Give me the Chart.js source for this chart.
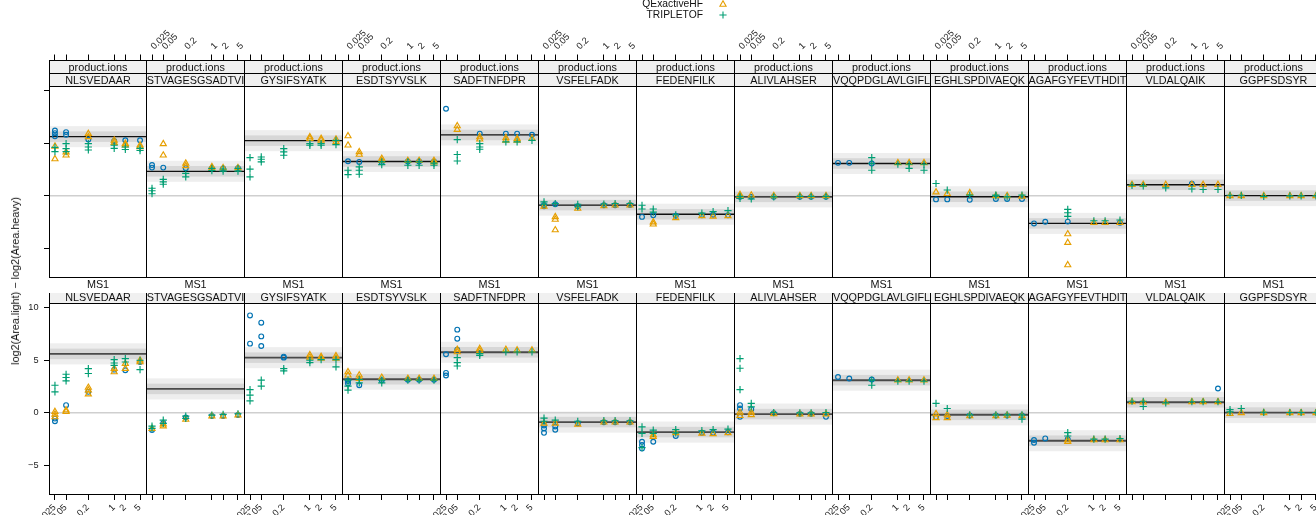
<!DOCTYPE html>
<html><head><meta charset="utf-8">
<script src="https://cdn.jsdelivr.net/npm/chart.js@4.4.1/dist/chart.umd.min.js"></script>
<style>
html,body{margin:0;padding:0;background:#fff;}
#root{position:relative;width:1316px;height:515px;overflow:hidden;background:#fff;font-family:'Liberation Sans',Arial,Helvetica,sans-serif;}
#root canvas{position:absolute;}
.strip{position:absolute;height:13px;line-height:13px;font-size:10.8px;display:flex;justify-content:center;overflow:hidden;white-space:nowrap;color:#111;}
.leg{position:absolute;font-size:10.3px;line-height:11px;color:#111;white-space:nowrap;text-align:right;width:80px;}
#ytitle{position:absolute;left:15px;top:281px;transform:translate(-50%,-50%) rotate(-90deg);font-size:10.8px;white-space:nowrap;color:#111;}
</style></head><body>
<div id="root"></div>
<script>
// ---------------- data ----------------
const concentrations = [0.025, 0.05, 0.2, 1, 2, 5];
const xTickLabels = ['0.025', '0.05', '0.2', '1', '2', '5'];
const yTicks = [-5, 0, 5, 10];
const yTickLabels = ['\u22125', '0', '5', '10'];
const rowLabels = ['product.ions', 'MS1'];
const peptides = ['NLSVEDAAR', 'STVAGESGSADTVI', 'GYSIFSYATK', 'ESDTSYVSLK', 'SADFTNFDPR', 'VSFELFADK',
  'FEDENFILK', 'ALIVLAHSER', 'VQQPDGLAVLGIFL', 'EGHLSPDIVAEQK', 'AGAFGYFEVTHDIT', 'VLDALQAIK', 'GGPFSDSYR'];
const seriesNames = ['circle series', 'QExactiveHF', 'TRIPLETOF'];

const meanProduct = [5.62, 2.33, 5.24, 3.26, 5.78, -0.88, -1.75, -0.1, 3.07, -0.09, -2.62, 1.05, 0.02];
const meanMS1 = [5.6, 2.27, 5.24, 3.19, 5.75, -0.88, -1.83, -0.12, 3.1, -0.19, -2.65, 1.0, 0.02];

// product.ions: per peptide, per concentration, replicate values
const productCircle = [
  [[6.2,5.95,5.65],[6.05,5.8],[5.35],[5.2],[5.27],[5.27]],
  [[2.92,2.68],[2.68],[2.63],[2.6],[2.6],[2.62]],
  [[],[],[],[],[],[]],
  [[3.28],[3.22],[3.2],[3.25],[3.25],[3.25]],
  [[8.27],[],[5.9],[5.9],[5.9],[5.8]],
  [[-0.88,-1.0],[-0.8],[-1.0],[-0.9],[-0.9],[-0.88]],
  [[-2.0],[-1.85],[-1.9],[-1.85],[-1.8],[-1.85]],
  [[-0.1],[-0.1],[-0.1],[-0.1],[-0.1],[-0.1]],
  [[3.13],[3.13],[3.07],[],[],[]],
  [[-0.34],[-0.34],[-0.38],[-0.3],[-0.3],[-0.3]],
  [[-2.62],[-2.46],[-2.45],[],[],[-2.56]],
  [[],[],[],[1.15],[],[]],
  [[],[],[],[],[],[]]
];
const productQE = [
  [[4.7,3.5],[4.15,3.85],[5.9,5.6],[5.27,5.05],[4.96,4.8],[4.8,4.64]],
  [[],[4.93,3.85],[3.08,2.84],[2.75,2.6],[2.65],[2.65]],
  [[],[],[],[5.59,5.43],[5.43,5.27],[5.37,5.12]],
  [[5.68,4.8],[4.17,3.92],[3.54,3.33],[3.33],[3.33],[3.33,3.2]],
  [[],[6.63,6.28],[5.59,5.37],[5.5,5.27],[5.43,5.27],[5.43]],
  [[-1.0],[-2.0,-2.25,-3.25],[-1.2],[-0.97],[-0.9],[-0.9]],
  [[],[-2.5,-2.7],[-2.1],[-1.9],[-1.95],[-1.9]],
  [[0.1,-0.05],[0.05],[0.0],[0.0],[0.0],[0.0]],
  [[],[],[],[3.13],[3.13],[3.13]],
  [[0.35],[0.2],[0.28],[0.0],[0.0],[-0.05]],
  [[],[],[-3.63,-4.45,-6.57],[-2.56],[-2.56],[-2.56]],
  [[1.05],[1.05],[1.05],[1.05],[1.05],[1.05]],
  [[0.0],[0.0],[0.0],[0.0],[0.0],[0.0]]
];
const productTT = [
  [[4.6,4.2],[4.96,4.48,4.2],[4.96,4.64,4.35],[4.8,4.5],[4.64,4.4],[4.5,4.3]],
  [[0.72,0.48,0.2],[1.56,1.33,1.1],[2.13,1.8],[2.6,2.4],[2.55,2.35],[2.6,2.35]],
  [[3.63,2.53,1.8],[3.69,3.47,3.22],[4.48,4.17,3.85],[4.96,4.8],[4.96,4.8],[5.27,4.86]],
  [[2.43,2.02],[2.75,2.43,2.05],[3.22,2.96],[3.22,2.9],[3.22,2.9],[3.1,2.9]],
  [[],[5.34,3.92,3.31],[4.96,4.64,4.42],[5.12],[5.12],[5.27]],
  [[-0.57,-0.8],[-0.73],[-0.8,-1.04],[-0.78],[-0.73],[-0.73]],
  [[-0.9,-1.25],[-1.25,-1.55],[-1.8],[-1.65],[-1.5],[-1.4]],
  [[-0.05,-0.25],[-0.3],[-0.1],[-0.05],[-0.05],[-0.05]],
  [[],[],[3.63,3.07,2.43],[3.0],[3.0,2.6],[3.0,2.43]],
  [[1.17],[0.55],[0.06],[0.06,0.0],[-0.1],[0.06]],
  [[],[],[-1.29,-1.61,-1.95],[-2.37],[-2.37],[-2.3]],
  [[1.0],[0.95],[0.75],[0.65],[0.6],[0.6]],
  [[0.05],[0.05],[-0.05],[0.0],[0.0],[0.0]]
];
// MS1
const ms1Circle = [
  [[-0.55,-0.8],[0.73],[1.99],[4.1],[4.04],[4.83]],
  [[-1.64],[-1.0],[-0.45],[-0.3],[-0.3],[-0.2]],
  [[9.25,6.57],[8.56,7.26,6.35],[5.33,5.24],[],[],[]],
  [[3.03,2.78],[2.62],[3.1],[3.15],[3.15],[3.15]],
  [[5.56,3.79,3.54],[7.9,7.04,6.0],[],[],[],[]],
  [[-1.2,-1.5,-1.9],[-1.3,-1.6],[-1.0],[-0.9],[-0.9],[-0.9]],
  [[-2.75,-3.05,-3.4],[-2.75],[-2.2],[-1.9],[-1.9],[-1.85]],
  [[0.73,0.41,-0.38],[0.35],[-0.05],[-0.1],[-0.1],[-0.38]],
  [[3.4],[3.25],[3.16],[],[],[]],
  [[-0.41],[-0.3],[-0.25],[-0.25],[-0.25],[-0.25]],
  [[-2.58,-2.84],[-2.43],[-2.5],[],[],[]],
  [[],[],[],[],[],[2.31]],
  [[],[],[],[],[],[]]
];
const ms1QE = [
  [[0.1,-0.15,-0.4],[0.25,0.1],[2.4,2.15,1.77],[4.2,3.88],[4.67,4.2],[4.99,4.83]],
  [[-1.5],[-1.07,-1.26],[-0.63],[-0.32],[-0.32],[-0.22]],
  [[],[],[],[5.49,5.27],[5.33,5.17],[5.4,5.17]],
  [[3.88,3.57],[3.57,3.25],[3.35],[3.25],[3.25],[3.25]],
  [[],[6.0,5.78],[6.09,5.87],[6.0],[5.95],[5.95]],
  [[-1.0],[-1.0],[-1.1],[-0.9],[-0.9],[-0.9]],
  [[],[-2.1,-2.26],[-1.9],[-1.95],[-2.0],[-1.9]],
  [[0.03,-0.28],[0.04,-0.2],[-0.1],[-0.12],[-0.12],[-0.12]],
  [[],[],[],[3.1],[3.1],[3.1]],
  [[-0.1,-0.48],[-0.2,-0.48],[-0.3],[-0.3],[-0.25],[-0.3]],
  [[],[],[-2.58,-2.74],[-2.58],[-2.58],[-2.58]],
  [[1.04],[1.0],[1.0],[1.04],[1.04],[1.04]],
  [[-0.07],[0.0],[0.0],[0.0],[0.0],[0.0]]
];
const ms1TT = [
  [[2.62,1.99],[3.66,3.35,3.03],[4.2,3.73],[5.05,4.73,4.51],[5.15,4.83],[4.99,4.1]],
  [[-1.26,-1.48],[-0.69,-1.0],[-0.32,-0.54],[-0.22],[-0.15],[-0.09]],
  [[2.21,1.68,1.14],[3.1,2.53],[4.2,3.98],[4.99,4.77],[5.05],[5.05,4.36]],
  [[3.1,2.53,2.15],[3.16,2.84],[3.1,2.84],[3.1],[3.1],[3.1]],
  [[],[5.24,4.77,4.45],[5.62,5.46],[5.78],[5.78],[5.78]],
  [[-0.5,-0.8],[-0.7],[-0.8],[-0.75],[-0.75],[-0.75]],
  [[-1.33,-1.95,-3.3],[-1.64,-1.95],[-1.6,-1.9],[-1.7],[-1.6],[-1.55]],
  [[5.15,4.23,2.21],[0.89,0.57],[0.03],[0.0],[0.0],[0.03]],
  [[],[],[3.1,2.62],[3.0],[3.0],[3.0]],
  [[0.89],[0.41],[-0.2],[-0.2],[-0.2],[-0.2,-0.6]],
  [[],[],[-1.88,-2.2],[-2.5],[-2.5],[-2.45]],
  [[1.1],[1.1,0.6],[0.95],[1.05],[1.05],[1.05]],
  [[0.31,0.09],[0.41],[0.05],[0.03],[0.03],[0.03]]
];

// ---------------- layout / style ----------------
const XMIN = 0.01726, XMAX = 7.244, YMIN = -7.71, YMAX = 10.43;
const PLOT_H = 191, STRIP_H = 13;
const rowPlotTop = [86, 303];
const COLORS = ['#0072B2', '#E69F00', '#009E73'];
const FONT = "'Liberation Sans', Arial, Helvetica, sans-serif";
const root = document.getElementById('root');
const panelLeft = i => Math.round(48.5 + 97.96 * i);

function toPoints(arr) {
  const out = [];
  arr.forEach((vals, j) => vals.forEach(v => out.push({ x: concentrations[j], y: v })));
  return out;
}

function makePanelPlugin(r, i, mean) {
  return {
    id: 'panel' + r + '_' + i,
    beforeDatasetsDraw(chart) {
      const { ctx, chartArea: a, scales: { y } } = chart;
      const w = a.right - a.left;
      ctx.save();
      ctx.beginPath(); ctx.rect(a.left, a.top, w, a.bottom - a.top); ctx.clip();
      const yp = v => y.getPixelForValue(v);
      ctx.fillStyle = '#eeeeee';
      ctx.fillRect(a.left, yp(mean + 1), w, yp(mean - 1) - yp(mean + 1));
      ctx.fillStyle = '#d7d7d7';
      ctx.fillRect(a.left, yp(mean + 0.5), w, yp(mean - 0.5) - yp(mean + 0.5));
      ctx.strokeStyle = '#cfcfcf'; ctx.lineWidth = 1.5;
      ctx.beginPath(); ctx.moveTo(a.left, yp(0)); ctx.lineTo(a.right, yp(0)); ctx.stroke();
      ctx.strokeStyle = r === 0 ? '#111111' : '#4a4a4a'; ctx.lineWidth = r === 0 ? 1.3 : 1.9;
      ctx.beginPath(); ctx.moveTo(a.left, yp(mean)); ctx.lineTo(a.right, yp(mean)); ctx.stroke();
      ctx.restore();
    },
    afterDraw(chart) {
      const { ctx, chartArea: a, scales: { x, y } } = chart;
      const w = a.right - a.left;
      const st = a.top - 2 * STRIP_H;
      ctx.save();
      // strips
      ctx.fillStyle = '#f0f0f0';
      ctx.fillRect(a.left, st, w, 2 * STRIP_H);
      ctx.strokeStyle = '#000'; ctx.lineWidth = 1;
      ctx.beginPath();
      [st, st + STRIP_H, a.top, a.bottom].forEach(yy => { ctx.moveTo(a.left, yy + 0.5); ctx.lineTo(a.right + 1, yy + 0.5); });
      [a.left, a.right].forEach(xx => { ctx.moveTo(xx + 0.5, st); ctx.lineTo(xx + 0.5, a.bottom + 1); });
      ctx.stroke();
      // x ticks
      ctx.fillStyle = '#222';
      ctx.font = '9.2px ' + FONT;
      ctx.textBaseline = 'middle';
      concentrations.forEach((t, k) => {
        const px = x.getPixelForValue(t);
        const cx = Math.round(px - 0.5) + 0.5;
        ctx.beginPath();
        if (r === 0) { ctx.moveTo(cx, st - 5.5); ctx.lineTo(cx, st); }
        else { ctx.moveTo(cx, a.bottom + 1); ctx.lineTo(cx, a.bottom + 6); }
        ctx.stroke();
        const showLabel = r === 0 ? (i % 2 === 1) : (i % 2 === 0);
        if (showLabel) {
          ctx.save();
          if (r === 0) { ctx.translate(px + 0.5, st - 12); ctx.textAlign = 'left'; }
          else { ctx.translate(px - 0.5, a.bottom + 12); ctx.textAlign = 'right'; }
          ctx.rotate(-Math.PI / 4);
          ctx.fillText(xTickLabels[k], 0, 0);
          ctx.restore();
        }
      });
      // y ticks on first column
      if (i === 0) {
        yTicks.forEach((t, k) => {
          const py = Math.round(y.getPixelForValue(t) - 0.5) + 0.5;
          ctx.beginPath(); ctx.moveTo(a.left - 5, py); ctx.lineTo(a.left, py); ctx.stroke();
          if (r === 1) {
            ctx.textAlign = 'right';
            ctx.fillText(yTickLabels[k], a.left - 10.5, y.getPixelForValue(t));
          }
        });
      }
      ctx.restore();
    }
  };
}

function makeChart(r, i) {
  const L = panelLeft(i), R = panelLeft(i + 1), w = R - L;
  const padL = 48, padR = 30;
  const padT = r === 0 ? 66 : 10, padB = r === 0 ? 6 : 21;
  const top = rowPlotTop[r] - padT;
  const cw = padL + w + padR, chh = padT + PLOT_H + padB;
  const cv = document.createElement('canvas');
  cv.width = cw; cv.height = chh;
  cv.style.left = (L - padL) + 'px'; cv.style.top = top + 'px';
  cv.style.width = cw + 'px'; cv.style.height = chh + 'px';
  root.appendChild(cv);
  const mean = r === 0 ? meanProduct[i] : meanMS1[i];
  const src = r === 0 ? [productCircle, productQE, productTT] : [ms1Circle, ms1QE, ms1TT];
  const styles = [
    { pointStyle: 'circle', radius: 2.4, order: 3 },
    { pointStyle: 'triangle', radius: 3.5, order: 2 },
    { pointStyle: 'cross', radius: 3.6, order: 1 }
  ];
  const datasets = src.map((s, k) => ({
    label: seriesNames[k],
    data: toPoints(s[i]),
    pointStyle: styles[k].pointStyle,
    pointRadius: styles[k].radius,
    pointHoverRadius: styles[k].radius,
    pointBorderWidth: 1.15,
    pointBorderColor: COLORS[k],
    pointBackgroundColor: 'rgba(0,0,0,0)',
    borderColor: COLORS[k],
    showLine: false,
    order: styles[k].order
  }));
  new Chart(cv, {
    type: 'scatter',
    data: { datasets },
    options: {
      responsive: false, animation: false, events: [],
      layout: { padding: { left: padL, right: padR, top: padT, bottom: padB } },
      scales: {
        x: { type: 'logarithmic', min: XMIN, max: XMAX, display: false },
        y: { type: 'linear', min: YMIN, max: YMAX, display: false }
      },
      plugins: { legend: { display: false }, tooltip: { enabled: false } }
    },
    plugins: [makePanelPlugin(r, i, mean)]
  });
  // strip texts
  const st = rowPlotTop[r] - 2 * STRIP_H;
  [rowLabels[r], peptides[i]].forEach((txt, k) => {
    const d = document.createElement('div');
    d.className = 'strip';
    d.style.left = (L + 1) + 'px'; d.style.width = (w - 1) + 'px';
    d.style.top = (st + k * STRIP_H + 0.5) + 'px';
    const sp = document.createElement('span'); sp.textContent = txt;
    d.appendChild(sp);
    root.appendChild(d);
  });
}

for (let r = 0; r < 2; r++) for (let i = 0; i < peptides.length; i++) makeChart(r, i);

// y title
const yt = document.createElement('div');
yt.id = 'ytitle'; yt.textContent = 'log2(Area.light) \u2212 log2(Area.heavy)';
root.appendChild(yt);

// legend (visible part)
const legendItems = [
  { name: seriesNames[1], color: COLORS[1], shape: 'tri', y: -2 },
  { name: seriesNames[2], color: COLORS[2], shape: 'plus', y: 9 }
];
legendItems.forEach(it => {
  const d = document.createElement('div');
  d.className = 'leg';
  d.style.left = (703 - 80) + 'px'; d.style.top = it.y + 'px';
  d.textContent = it.name;
  root.appendChild(d);
  const ns = 'http://www.w3.org/2000/svg';
  const svg = document.createElementNS(ns, 'svg');
  svg.setAttribute('width', 10); svg.setAttribute('height', 10);
  svg.style.position = 'absolute';
  svg.style.left = '718px'; svg.style.top = (it.y + 0.5) + 'px';
  const p = document.createElementNS(ns, 'path');
  p.setAttribute('d', it.shape === 'tri' ? 'M5 1.8 L8.1 7.2 L1.9 7.2 Z' : 'M5 1.4 V8.6 M1.4 5 H8.6');
  p.setAttribute('fill', 'none'); p.setAttribute('stroke', it.color); p.setAttribute('stroke-width', '1.1');
  svg.appendChild(p);
  root.appendChild(svg);
});
</script>
</body></html>
